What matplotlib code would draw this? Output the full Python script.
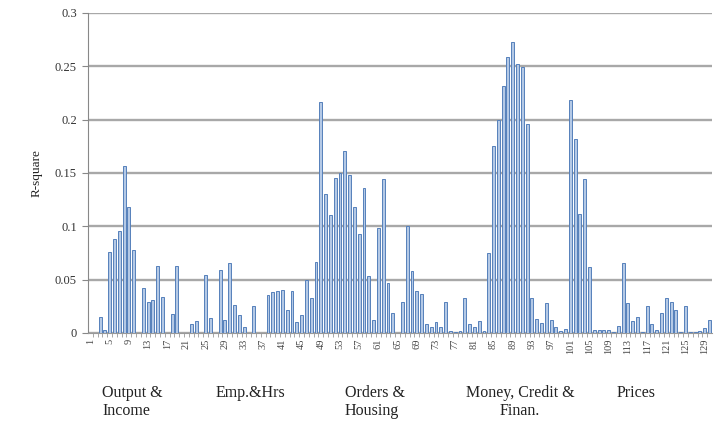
import matplotlib.pyplot as plt
from matplotlib.transforms import blended_transform_factory

# R-square per series (1..130)
r_square = [
    0.000, 0.000, 0.015, 0.003, 0.076, 0.088, 0.096, 0.157, 0.118, 0.078,
    0.000, 0.042, 0.029, 0.031, 0.063, 0.034, 0.000, 0.018, 0.063, 0.000,
    0.000, 0.008, 0.011, 0.000, 0.054, 0.014, 0.000, 0.059, 0.012, 0.066,
    0.026, 0.017, 0.006, 0.000, 0.025, 0.000, 0.000, 0.036, 0.038, 0.039,
    0.040, 0.022, 0.039, 0.010, 0.017, 0.050, 0.033, 0.067, 0.217, 0.130,
    0.111, 0.145, 0.150, 0.171, 0.148, 0.118, 0.093, 0.136, 0.053, 0.012,
    0.098, 0.144, 0.047, 0.019, 0.000, 0.029, 0.100, 0.058, 0.039, 0.037,
    0.008, 0.006, 0.010, 0.006, 0.029, 0.002, 0.001, 0.002, 0.033, 0.008,
    0.006, 0.011, 0.002, 0.075, 0.175, 0.200, 0.232, 0.259, 0.273, 0.252,
    0.249, 0.196, 0.033, 0.013, 0.009, 0.028, 0.012, 0.006, 0.002, 0.004,
    0.218, 0.182, 0.112, 0.144, 0.062, 0.003, 0.003, 0.003, 0.003, 0.001,
    0.007, 0.066, 0.028, 0.011, 0.015, 0.001, 0.025, 0.008, 0.003, 0.019,
    0.033, 0.029, 0.022, 0.001, 0.025, 0.001, 0.001, 0.002, 0.005, 0.012,
]
series_no = list(range(1, len(r_square) + 1))
tick_series = series_no[::4]
y_ticks = [0, 0.05, 0.1, 0.15, 0.2, 0.25, 0.3]
y_tick_labels = ["0", "0.05", "0.1", "0.15", "0.2", "0.25", "0.3"]
group_names = ["Output &\nIncome", "Emp.&Hrs", "Orders &\nHousing",
               "Money, Credit &\nFinan.", "Prices"]

plt.rcParams["font.family"] = ["Liberation Serif", "DejaVu Serif"]

fig = plt.figure(figsize=(7.18, 4.33), dpi=100)
ax = fig.add_axes([0.1226, 0.231, 0.869, 0.739])

ax.bar(series_no, r_square, width=0.62, color="#b4c9e6",
       edgecolor="#5580bb", linewidth=0.7, zorder=3)

ax.set_xlim(0.5, len(series_no) + 0.5)
ax.set_ylim(0, 0.3)
ax.set_yticks(y_ticks)
ax.set_yticklabels(y_tick_labels, fontsize=9, color="#333333")
ax.set_xticks(tick_series)
ax.set_xticklabels([str(n) for n in tick_series], rotation=90,
                   fontsize=7.5, color="#444444")
ax.set_xticks([n + 0.5 for n in series_no[:-1]], minor=True)
ax.tick_params(axis="x", which="major", length=0, pad=4)
ax.tick_params(axis="x", which="minor", length=3, color="#999999")
ax.tick_params(axis="y", length=4, color="#888888", pad=4)

ax.grid(axis="y", color="#a8a8a8", linewidth=1.7, zorder=0)
for side in ["top", "right"]:
    ax.spines[side].set_visible(False)
ax.spines["left"].set_color("#888888")
ax.spines["bottom"].set_color("#999999")

ax.set_ylabel("R-square", fontsize=9.5, color="#222222", labelpad=9)

# group captions under the axis
trans = blended_transform_factory(ax.transData, fig.transFigure)
group_x = [3.5, 27.0, 54.0, 90.5, 110.7]
group_ha = ["left", "left", "left", "center", "left"]
for name, gx, ha in zip(group_names, group_x, group_ha):
    ax.text(gx, 0.112, name, transform=trans, ha=ha, va="top",
            multialignment=ha, fontsize=11.5, color="#222222",
            linespacing=1.2)

fig.savefig("out.png", dpi=100)
